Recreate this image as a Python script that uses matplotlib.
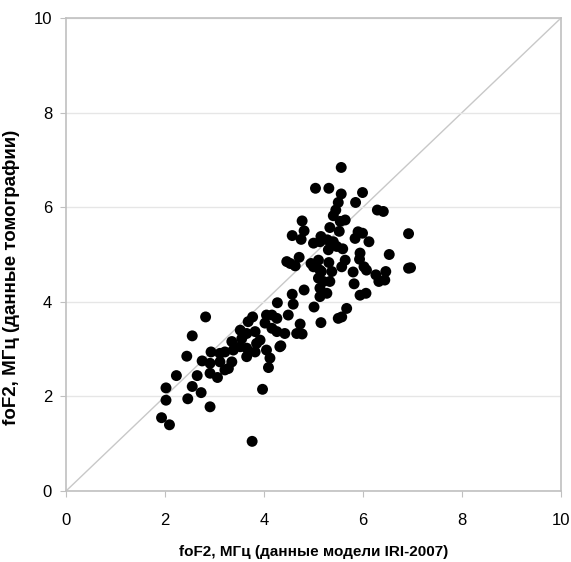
import matplotlib
matplotlib.use("Agg")
import matplotlib.pyplot as plt

# foF2: IRI-2007 model (x) vs tomography (y), MHz
iri = [1.93, 2.09, 2.02, 2.02, 2.23, 2.44, 2.55, 2.82, 2.46, 2.55, 2.73, 2.65, 2.91, 2.75,
       3.76, 3.97, 2.93, 2.91, 2.91, 3.06, 3.11, 3.21, 3.28, 3.21, 3.35, 3.38, 3.52, 3.65,
       3.65, 3.82, 3.85, 4.05, 4.12, 4.09, 4.32, 3.52, 3.68, 3.77, 3.65, 3.82, 3.92, 4.05,
       4.16, 4.26, 4.02, 4.16, 4.26, 4.42, 4.49, 4.73, 4.77, 4.66, 4.27, 4.59, 5.01, 5.15,
       3.11, 3.35, 4.34, 5.50, 5.67, 5.57, 3.55,
       5.56, 5.04, 5.31, 5.99, 5.56, 5.50, 5.85, 5.45, 5.40, 6.29, 6.41, 5.54, 5.64, 4.77,
       4.81, 4.57, 4.75, 5.33, 5.52, 5.15, 5.00, 5.28, 5.40, 5.30, 5.47, 5.59, 5.90, 5.99,
       5.84, 6.12, 6.92, 5.94, 5.93, 6.53, 6.92, 4.53, 4.46, 4.71, 4.63, 4.95, 5.10, 5.31,
       5.64, 5.57, 5.00, 5.13, 5.37, 5.10, 5.20, 5.33, 5.80, 6.02, 6.07, 5.82, 6.26, 6.32,
       6.46, 5.13, 5.27, 5.13, 5.94, 6.06, 4.81, 4.57, 5.13, 5.16, 6.44, 6.96]
tomo = [1.55, 1.40, 1.92, 2.18, 2.44, 2.85, 3.28, 3.68, 1.95, 2.21, 2.08, 2.44, 1.78, 2.75,
        1.05, 2.15, 2.94, 2.70, 2.49, 2.40, 2.91, 2.94, 2.59, 2.56, 2.73, 2.98, 3.05, 2.84,
        3.02, 2.94, 3.12, 2.98, 2.81, 2.61, 3.05, 3.40, 3.58, 3.68, 3.33, 3.37, 3.19, 3.72,
        3.72, 3.65, 3.55, 3.44, 3.37, 3.33, 3.72, 3.53, 3.32, 3.33, 3.98, 3.95, 3.89, 3.56,
        2.73, 3.16, 3.07, 3.65, 3.86, 3.68, 3.22,
        6.84, 6.40, 6.40, 6.31, 6.28, 6.10, 6.10, 5.94, 5.82, 5.94, 5.91, 5.70, 5.73, 5.71,
        5.50, 5.40, 5.32, 5.57, 5.49, 5.38, 5.24, 5.31, 5.27, 5.10, 5.17, 5.12, 5.48, 5.45,
        5.34, 5.27, 5.44, 5.03, 4.90, 5.00, 4.71, 4.81, 4.85, 4.94, 4.76, 4.81, 4.88, 4.83,
        4.88, 4.74, 4.74, 4.67, 4.64, 4.50, 4.43, 4.43, 4.63, 4.74, 4.67, 4.38, 4.57, 4.43,
        4.64, 4.29, 4.18, 4.11, 4.14, 4.18, 4.25, 4.16, 5.27, 4.64, 4.46, 4.72]

ticks = [0, 2, 4, 6, 8, 10]

plt.rcParams["font.family"] = ["Liberation Sans", "DejaVu Sans"]
fig = plt.figure(figsize=(5.71, 5.62), dpi=100)
ax = fig.add_axes([0.1156, 0.1263, 0.8669, 0.8417])

ax.plot([0, 10], [0, 10], color="#c8c8c8", lw=1.0, zorder=1)
ax.scatter(iri, tomo, s=62, color="black", edgecolors="none", zorder=3)

ax.set_xlim(0, 10); ax.set_ylim(0, 10)
ax.set_xticks(ticks); ax.set_yticks(ticks)
ax.grid(axis="y", color="#e6e6e6", lw=1.0, zorder=0)
for s in ax.spines.values():
    s.set_color("#c0c0c0"); s.set_linewidth(1.2)
ax.tick_params(direction="out", length=4, color="#c0c0c0", labelsize=12)
ax.tick_params(axis="x", pad=12)
ax.tick_params(axis="y", pad=6)
ax.set_xlabel("foF2, МГц (данные модели IRI-2007)", fontsize=11, weight="bold", labelpad=12)
ax.set_ylabel("foF2, МГц (данные томографии)", fontsize=13.5, weight="bold")
ax.yaxis.set_label_coords(-0.093, 0.452)

fig.savefig("out.png", dpi=100)
